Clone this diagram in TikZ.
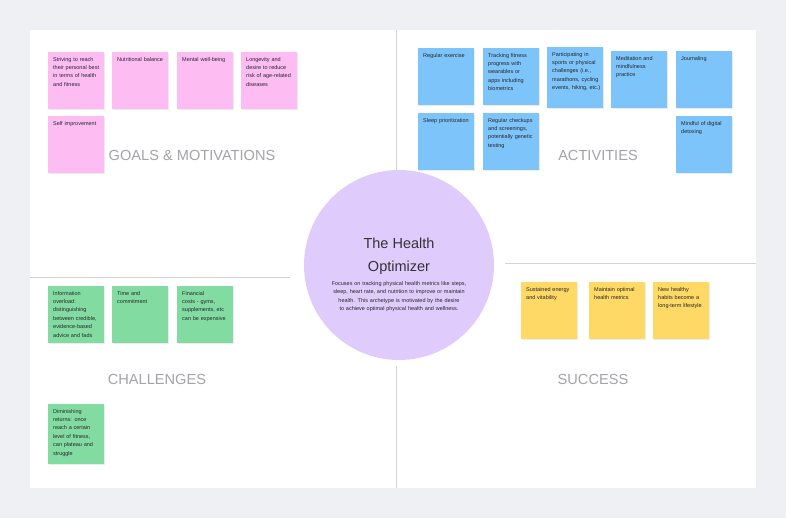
\documentclass[tikz,border=0pt]{standalone}
\usepackage{fontspec}
\setmainfont{Liberation Sans}
\usetikzlibrary{positioning,shadows}
\definecolor{pinknote}{HTML}{FDBDF3}
\definecolor{bluenote}{HTML}{7DC4FB}
\definecolor{greennote}{HTML}{82DCA2}
\definecolor{yellownote}{HTML}{FFD966}
\definecolor{lilac}{HTML}{E0CCFC}
\definecolor{backgr}{HTML}{EEF0F4}
\definecolor{divider}{HTML}{D4D4D8}
\definecolor{labelgray}{HTML}{A3A3A8}
\tikzset{
	note/.style={anchor=north west, minimum width=56pt, minimum height=57pt, inner sep=0pt,
		drop shadow={shadow xshift=0.6pt, shadow yshift=-0.8pt, opacity=0.15}},
	notetext/.style={anchor=north west, text width=48pt, inner sep=0pt, align=left,
		font=\fontsize{5.5}{8.4}\selectfont, text=black!85},
	head/.style={font=\fontsize{14.6}{16}\selectfont, text=labelgray},
	divline/.style={draw=divider, line width=1pt}
}
% sticky note: name, position, colour, text
\newcommand{\sticky}[5][]{%
	\node[note, fill=#4, #1] (#2) at #3 {};
	\node[notetext] (#2t) at ([xshift=5pt, yshift=-5pt]#2.north west) {#5};}
\begin{document}
\hyphenpenalty=10000
\exhyphenpenalty=10000
\begin{tikzpicture}[x=1pt, y=-1pt]
		\fill[backgr] (0,0) rectangle (786,518);
		\fill[white] (30,30) rectangle (756,488);
		\useasboundingbox (0,0) rectangle (786,518);
		
		% dividers
		\coordinate (VT) at (396,30);
		\coordinate (VTb) at (396,184);
		\coordinate (VB) at (396,366);
		\coordinate (VBb) at (396,488);
		\coordinate (HL) at (30,278);
		\coordinate (HLb) at (290,278);
		\coordinate (HR) at (505,264);
		\coordinate (HRb) at (756,264);
		\draw[divline] (VT) -- (VTb);
		\draw[divline] (VB) -- (VBb);
		\draw[divline] (HL) -- (HLb);
		\draw[divline] (HR) -- (HRb);
		
		% persona
		\node[circle, fill=lilac, minimum size=190pt] (P) at (399,265) {};
		\node[font=\fontsize{14.5}{23}\selectfont, text=black!80, align=center] (PT) at (399,256) {The Health\\Optimizer};
		\node[font=\fontsize{5.5}{8.4}\selectfont, text=black!85, align=center, text width=140pt, below=0pt of PT] (PD)
			{Focuses on tracking physical health metrics like steps, sleep, heart rate, and nutrition to improve or maintain health. This archetype is motivated by the desire to achieve optimal physical health and wellness.};
		
		% goals
		\sticky{G1}{(48,52)}{pinknote}{Striving to reach their personal best in terms of health and fitness}
		\sticky{G2}{(112,52)}{pinknote}{Nutritional balance}
		\sticky{G3}{(177,52)}{pinknote}{Mental well-being}
		\sticky{G4}{(241,52)}{pinknote}{Longevity and desire to reduce risk of age-related diseases}
		\sticky{G5}{(48,116)}{pinknote}{Self improvement}
		\node[head] (GH) at (192,155) {GOALS \& MOTIVATIONS};
		
		% activities
		\sticky{A1}{(418,48)}{bluenote}{Regular exercise}
		\sticky{A2}{(483,48)}{bluenote}{Tracking fitness progress with wearables or apps including biometrics}
		\sticky[minimum height=61pt]{A3}{(547,47)}{bluenote}{Participating in sports or physical challenges (i.e., marathons, cycling events, hiking, etc.)}
		\sticky{A4}{(611,51)}{bluenote}{Meditation and mindfulness practice}
		\sticky{A5}{(676,51)}{bluenote}{Journaling}
		\sticky{A6}{(418,113)}{bluenote}{Sleep prioritization}
		\sticky{A7}{(483,113)}{bluenote}{Regular checkups and screenings, potentially genetic testing}
		\sticky{A8}{(676,116)}{bluenote}{Mindful of digital detoxing}
		\node[head] (AH) at (598,155) {ACTIVITIES};
		
		% challenges
		\sticky{C1}{(48,286)}{greennote}{Information overload: distinguishing between credible, evidence-based advice and fads}
		\sticky{C2}{(112,286)}{greennote}{Time and commitment}
		\sticky{C3}{(177,286)}{greennote}{Financial costs - gyms, supplements, etc can be expensive}
		\sticky[minimum height=60pt]{C4}{(48,404)}{greennote}{Diminishing returns: once reach a certain level of fitness, can plateau and struggle}
		\node[head] (CH) at (157,379) {CHALLENGES};
		
		% success
		\sticky{S1}{(521,282)}{yellownote}{Sustained energy and vitability}
		\sticky{S2}{(589,282)}{yellownote}{Maintain optimal health metrics}
		\sticky{S3}{(653,282)}{yellownote}{New healthy habits become a long-term lifestyle}
		\node[head] (SH) at (593,379) {SUCCESS};
\end{tikzpicture}
\end{document}
